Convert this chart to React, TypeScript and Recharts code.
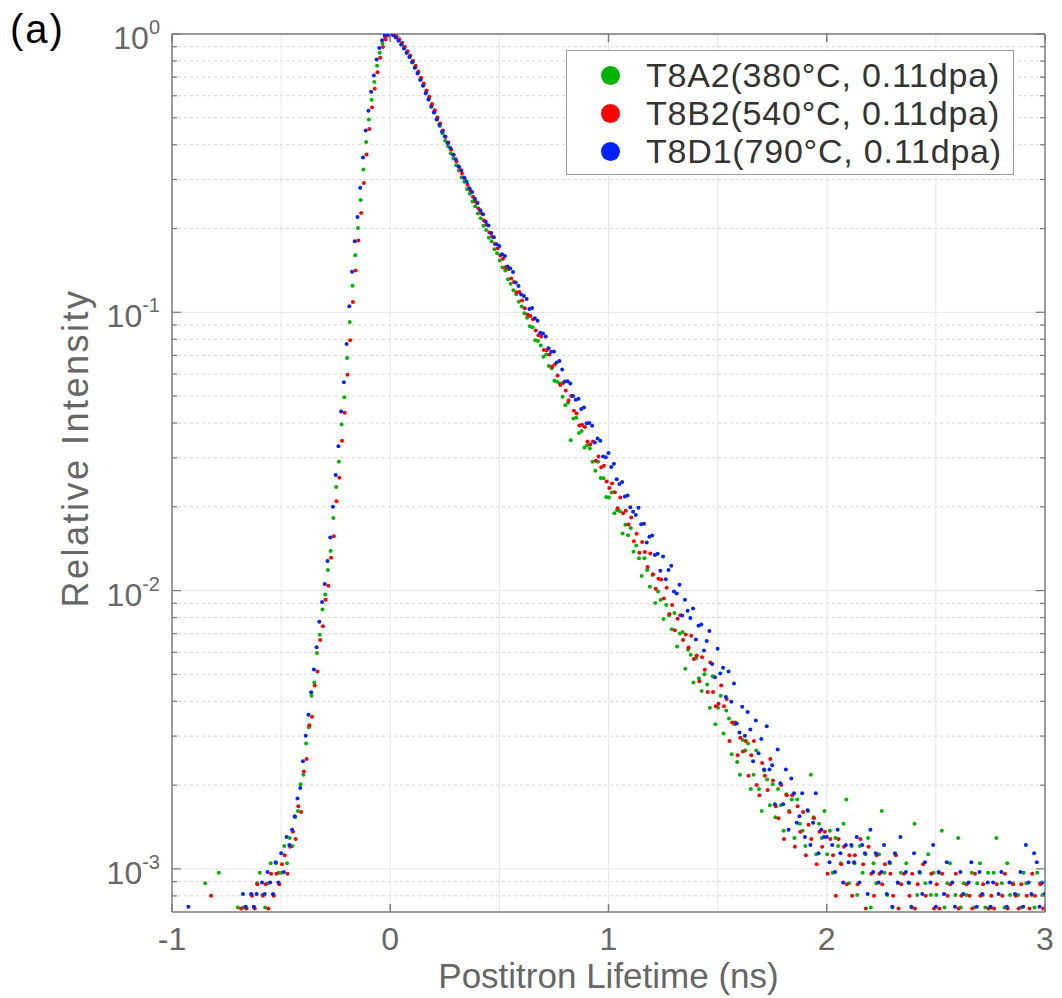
import React from 'react';
import { ScatterChart, Scatter, XAxis, YAxis, CartesianGrid, Legend } from 'recharts';

// channel layout of the lifetime spectrometer (t = start + index * width)
const CHANNEL_NS = 0.0125;
const FIRST_CHANNEL_NS = -1;

// raw counts per channel (peak channel ~ 12300-12500 counts)
const t8a2Counts = [
  4, 3, 5, 6, 4, 3, 5, 4, 6, 3,
  5, 4, 11, 5, 6, 4, 7, 12, 5, 6,
  4, 7, 6, 5, 9, 7, 9, 8, 7, 10,
  9, 11, 12, 10, 9, 11, 13, 10, 13, 12,
  12, 15, 13, 16, 15, 19, 20, 25, 27, 35,
  40, 52, 58, 74, 86, 106, 120, 147, 172, 226,
  292, 360, 490, 614, 850, 1145, 1545, 1990, 2490, 3140,
  4040, 5070, 6110, 7200, 8340, 9530, 10610, 11460, 12040, 12330,
  12400, 12320, 12080, 11790, 11400, 11050, 10630, 10250, 9820, 9420,
  8990, 8530, 8120, 7660, 7270, 6840, 6490, 6100, 5790, 5450,
  5130, 4900, 4620, 4430, 4190, 4010, 3790, 3650, 3440, 3310,
  3100, 2980, 2810, 2700, 2540, 2450, 2300, 2230, 2090, 2020,
  1905, 1798, 1752, 1631, 1570, 1489, 1440, 1352, 1301, 1229,
  1185, 1105, 1095, 983, 977, 942, 858, 875, 795, 781,
  704, 698, 688, 617, 575, 587, 430, 515, 518, 457,
  464, 405, 413, 402, 360, 334, 360, 315, 314, 269,
  268, 279, 235, 241, 239, 199, 214, 196, 208, 171,
  180, 162, 140, 162, 147, 128, 141, 112, 123, 115,
  98, 110, 101, 90, 103, 78, 87, 88, 65, 76,
  73, 58, 71, 60, 54, 62, 57, 47, 61, 41,
  47, 52, 38, 46, 43, 32, 41, 30, 27, 36,
  33, 35, 24, 27, 33, 24, 20, 28, 26, 21,
  25, 19, 24, 21, 17, 23, 20, 22, 16, 22,
  18, 17, 15, 20, 27, 19, 14, 18, 16, 20,
  14, 17, 12, 16, 15, 13, 18, 22, 11, 15,
  13, 10, 15, 12, 14, 16, 9, 13, 11, 14,
  20, 12, 10, 13, 9, 14, 11, 12, 8, 13,
  11, 9, 18, 10, 12, 8, 11, 14, 10, 12,
  10, 12, 17, 9, 11, 13, 8, 10, 16, 9,
  11, 10, 8, 12, 9, 11, 13, 10, 9, 12,
  9, 12, 16, 8, 11, 9, 13, 10, 11, 8,
  10, 9, 12, 11, 8, 10, 9, 12, 11, 10,
  9,
];

const t8b2Counts = [
  3, 5, 4, 6, 2, 5, 4, 3, 6, 4,
  5, 3, 6, 4, 10, 5, 3, 6, 5, 4,
  6, 4, 5, 7, 6, 9, 7, 9, 8, 10,
  9, 11, 8, 10, 11, 9, 12, 10, 12, 11,
  13, 14, 12, 15, 17, 16, 21, 20, 28, 31,
  41, 44, 57, 64, 83, 93, 116, 130, 164, 196,
  262, 318, 432, 544, 745, 992, 1362, 1768, 2262, 2841,
  3640, 4610, 5700, 6800, 7950, 9110, 10270, 11230, 11950, 12340,
  12500, 12460, 12280, 11980, 11620, 11260, 10840, 10460, 10020, 9610,
  9170, 8710, 8300, 7830, 7440, 7010, 6650, 6270, 5960, 5620,
  5340, 5090, 4810, 4600, 4350, 4160, 3950, 3790, 3590, 3430,
  3250, 3120, 2950, 2840, 2670, 2580, 2420, 2340, 2200, 2120,
  2000, 1946, 1813, 1788, 1655, 1605, 1471, 1479, 1379, 1292,
  1227, 1213, 1180, 1075, 1034, 1024, 915, 914, 882, 796,
  811, 741, 685, 697, 655, 602, 625, 554, 541, 490,
  493, 484, 429, 419, 429, 366, 379, 347, 351, 308,
  292, 303, 282, 247, 270, 237, 242, 216, 229, 188,
  200, 171, 187, 172, 152, 170, 143, 127, 138, 137,
  117, 128, 103, 111, 90, 99, 102, 83, 87, 78,
  86, 71, 73, 59, 72, 65, 54, 69, 54, 48,
  49, 57, 48, 51, 36, 42, 42, 32, 37, 33,
  36, 27, 32, 36, 25, 23, 30, 27, 24, 31,
  26, 21, 19, 25, 16, 23, 20, 23, 15, 21,
  17, 20, 14, 18, 16, 19, 13, 17, 15, 17,
  12, 16, 14, 10, 16, 13, 15, 11, 14, 10,
  14, 11, 16, 13, 9, 15, 12, 10, 14, 12,
  11, 13, 8, 12, 10, 14, 9, 11, 12, 7,
  10, 12, 9, 11, 8, 13, 10, 7, 12, 9,
  11, 9, 12, 8, 10, 11, 7, 12, 9, 10,
  8, 11, 10, 9, 12, 7, 10, 11, 8, 9,
  10, 9, 11, 8, 10, 12, 9, 7, 11, 10,
  9, 11, 8, 10, 9, 12, 10, 8, 11, 9,
  10,
];

const t8d1Counts = [
  4, 6, 3, 5, 7, 4, 9, 5, 3, 6,
  5, 4, 7, 6, 3, 5, 8, 6, 4, 7,
  6, 5, 8, 7, 8, 6, 10, 9, 8, 10,
  9, 10, 8, 11, 10, 12, 11, 10, 13, 11,
  14, 12, 16, 15, 17, 19, 22, 24, 30, 37,
  44, 53, 64, 77, 95, 112, 130, 157, 191, 246,
  320, 406, 541, 689, 947, 1292, 1722, 2214, 2706, 3444,
  4428, 5535, 6519, 7626, 8733, 9963, 10947, 11685, 12116, 12300,
  12260, 12190, 11950, 11640, 11270, 10900, 10530, 10160, 9730, 9300,
  8870, 8400, 8010, 7540, 7150, 6740, 6420, 6070, 5800, 5490,
  5270, 4990, 4790, 4530, 4360, 4120, 3980, 3750, 3620, 3430,
  3330, 3150, 3040, 2860, 2770, 2600, 2520, 2370, 2290, 2160,
  2129, 1988, 1961, 1797, 1766, 1716, 1574, 1529, 1426, 1407,
  1374, 1265, 1274, 1170, 1147, 1039, 1032, 1006, 913, 887,
  890, 812, 822, 767, 694, 695, 683, 616, 596, 601,
  553, 560, 491, 492, 481, 419, 433, 425, 373, 371,
  384, 342, 351, 309, 297, 302, 268, 270, 245, 236,
  230, 244, 213, 214, 183, 192, 194, 165, 167, 145,
  163, 135, 146, 151, 122, 120, 129, 100, 114, 104,
  98, 106, 82, 92, 93, 75, 81, 88, 67, 60,
  76, 62, 65, 51, 63, 49, 57, 41, 38, 47,
  37, 45, 39, 30, 42, 32, 36, 28, 40, 28,
  29, 21, 33, 25, 21, 28, 17, 26, 23, 18,
  19, 23, 16, 20, 15, 18, 23, 14, 17, 16,
  16, 13, 15, 12, 17, 14, 11, 15, 13, 15,
  13, 16, 11, 15, 14, 10, 17, 12, 14, 11,
  12, 15, 10, 13, 9, 14, 11, 16, 8, 12,
  11, 9, 14, 7, 12, 10, 13, 8, 11, 15,
  9, 12, 7, 10, 13, 8, 11, 9, 6, 12,
  10, 8, 11, 13, 7, 9, 12, 10, 8, 11,
  9, 11, 7, 10, 12, 8, 9, 11, 6, 10,
  8, 12, 9, 15, 11, 10, 14, 13, 9, 11,
  10,
];

const seriesNames = ['T8A2(380°C, 0.11dpa)', 'T8B2(540°C, 0.11dpa)', 'T8D1(790°C, 0.11dpa)'];
const seriesColors = ['#00b400', '#ff0000', '#0022ff'];
const seriesCounts = [t8a2Counts, t8b2Counts, t8d1Counts];
const seriesShiftNs = [0.002, 0.004, 0];

const xTicks = [-1, 0, 1, 2, 3];
const xGrid = [-0.5, 0, 0.5, 1, 1.5, 2, 2.5];
const yMajor = [0.001, 0.01, 0.1, 1];
const yMinor = [
  0.0008, 0.0009,
  0.002, 0.003, 0.004, 0.005, 0.006, 0.007, 0.008, 0.009,
  0.02, 0.03, 0.04, 0.05, 0.06, 0.07, 0.08, 0.09,
  0.2, 0.3, 0.4, 0.5, 0.6, 0.7, 0.8, 0.9,
];
const yTicks = [...yMinor, ...yMajor].sort((a, b) => a - b);

const X_MIN = -1;
const X_MAX = 3;
const Y_MIN = 0.0007;
const Y_MAX = 1;

const CHART_W = 1054;
const CHART_H = 990;
const MARGIN = { top: 26, right: 17, bottom: 0, left: 0 };
const Y_AXIS_W = 164;
const X_AXIS_H = 86;
const PLOT_W = CHART_W - MARGIN.left - MARGIN.right - Y_AXIS_W;
const PLOT_H = CHART_H - MARGIN.top - MARGIN.bottom - X_AXIS_H;

const FONT = '"Liberation Sans", Arial, Helvetica, sans-serif';
const AXIS_COLOR = '#7a7a7a';
const TEXT_COLOR = '#666666';

function toPoints(counts: number[], shift: number) {
  const peak = Math.max(...counts);
  return counts
    .map((c, i) => ({ t: FIRST_CHANNEL_NS + i * CHANNEL_NS + shift, r: c / peak }))
    .filter((p) => p.r >= Y_MIN && p.t <= X_MAX);
}

function XTick(props: any) {
  const { x, y, payload } = props;
  return (
    <g>
      <line x1={x} x2={x} y1={y} y2={y - 8} stroke={AXIS_COLOR} strokeWidth={1.5} />
      <line x1={x} x2={x} y1={y - PLOT_H} y2={y - PLOT_H + 8} stroke={AXIS_COLOR} strokeWidth={1.5} />
      <text x={x} y={y + 38} textAnchor="middle" fontSize={32} fill={TEXT_COLOR} fontFamily={FONT}>
        {payload.value}
      </text>
    </g>
  );
}

function YTick(props: any) {
  const { x, y, payload } = props;
  const v = payload.value;
  const major = yMajor.includes(v);
  const len = major ? 9 : 5;
  const exp = Math.round(Math.log10(v));
  return (
    <g>
      <line x1={x} x2={x + len} y1={y} y2={y} stroke={AXIS_COLOR} strokeWidth={1.2} />
      <line x1={x + PLOT_W} x2={x + PLOT_W - len} y1={y} y2={y} stroke={AXIS_COLOR} strokeWidth={1.2} />
      {major && (
        <text x={x - 12} y={y + 15} textAnchor="end" fontSize={32} fill={TEXT_COLOR} fontFamily={FONT}>
          10
          <tspan dy={-15} fontSize={20}>
            {exp}
          </tspan>
        </text>
      )}
    </g>
  );
}

function XLabel(props: any) {
  const vb = props.viewBox;
  return (
    <text
      x={vb.x + vb.width / 2}
      y={vb.y + 76}
      textAnchor="middle"
      fontSize={35}
      fill={TEXT_COLOR}
      fontFamily={FONT}
    >
      Postitron Lifetime (ns)
    </text>
  );
}

function YLabel(props: any) {
  const vb = props.viewBox;
  const cx = vb.x + 67;
  const cy = vb.y + vb.height / 2 - 25;
  return (
    <text
      x={cx}
      y={cy}
      transform={`rotate(-90, ${cx}, ${cy})`}
      textAnchor="middle"
      dominantBaseline="central"
      fontSize={36}
      letterSpacing={2.5}
      fill={TEXT_COLOR}
      fontFamily={FONT}
    >
      Relative Intensity
    </text>
  );
}

function LegendBox(props: any) {
  const { payload } = props;
  return (
    <div
      style={{
        width: 448,
        height: 125,
        boxSizing: 'border-box',
        border: '1.5px solid #9a9a9a',
        background: '#fff',
        paddingTop: 5,
        fontFamily: FONT,
      }}
    >
      {(payload || []).map((entry: any) => (
        <div key={entry.value} style={{ display: 'flex', alignItems: 'center', height: 38 }}>
          <span
            style={{
              display: 'inline-block',
              width: 19,
              height: 19,
              borderRadius: '50%',
              background: entry.color,
              marginLeft: 34,
              marginRight: 26,
            }}
          />
          <span style={{ fontSize: 34, letterSpacing: 0.8, color: '#333', whiteSpace: 'nowrap' }}>
            {entry.value}
          </span>
        </div>
      ))}
    </div>
  );
}

export default function App() {
  const series = seriesNames.map((name, i) => ({
    name,
    color: seriesColors[i],
    data: toPoints(seriesCounts[i], seriesShiftNs[i]),
  }));

  return (
    <div style={{ position: 'relative', width: CHART_W, height: CHART_H, background: '#fff' }}>
      <div
        style={{
          position: 'absolute',
          left: 2,
          top: -2,
          fontSize: 40,
          letterSpacing: 2,
          lineHeight: '46px',
          fontFamily: FONT,
          color: '#000',
          zIndex: 2,
        }}
      >
        (a)
      </div>
      <ScatterChart width={CHART_W} height={CHART_H} margin={MARGIN}>
        <CartesianGrid horizontalValues={yMinor} vertical={false} stroke="#d4d4d4" strokeDasharray="3 3" />
        <CartesianGrid horizontalValues={yMajor} verticalValues={xGrid} stroke="#e6e6e6" />
        <CartesianGrid horizontalValues={[Y_MAX]} verticalValues={[X_MAX]} stroke={AXIS_COLOR} strokeWidth={1.5} />
        <XAxis
          dataKey="t"
          type="number"
          domain={[X_MIN, X_MAX]}
          ticks={xTicks}
          interval={0}
          tickSize={0}
          tickMargin={0}
          height={X_AXIS_H}
          allowDataOverflow
          axisLine={{ stroke: AXIS_COLOR, strokeWidth: 1.5 }}
          tick={(p: any) => <XTick {...p} />}
          label={(p: any) => <XLabel {...p} />}
        />
        <YAxis
          dataKey="r"
          type="number"
          scale="log"
          domain={[Y_MIN, Y_MAX]}
          ticks={yTicks}
          interval={0}
          tickSize={0}
          tickMargin={0}
          width={Y_AXIS_W}
          allowDataOverflow
          axisLine={{ stroke: AXIS_COLOR, strokeWidth: 1.5 }}
          tick={(p: any) => <YTick {...p} />}
          label={(p: any) => <YLabel {...p} />}
        />
        <Legend
          layout="vertical"
          align="center"
          verticalAlign="middle"
          content={(p: any) => <LegendBox {...p} />}
          wrapperStyle={{ position: 'absolute', left: 558, top: 42, width: 448, height: 125 }}
        />
        {series.map((s) => (
          <Scatter
            key={s.name}
            name={s.name}
            data={s.data}
            fill={s.color}
            legendType="circle"
            isAnimationActive={false}
            shape={(p: any) => <circle cx={p.cx} cy={p.cy} r={2} fill={s.color} />}
          />
        ))}
      </ScatterChart>
    </div>
  );
}
